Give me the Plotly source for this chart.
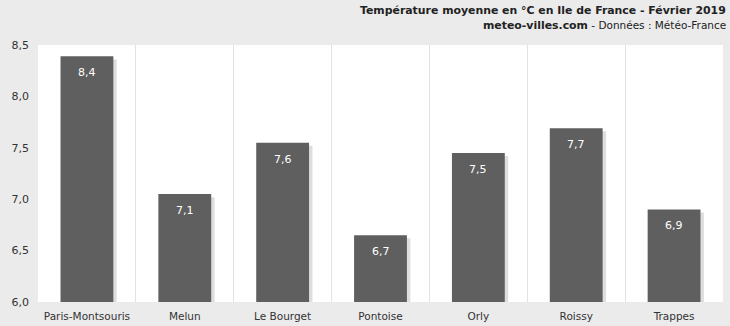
import plotly.graph_objects as go

stations = ["Paris-Montsouris", "Melun", "Le Bourget", "Pontoise", "Orly", "Roissy", "Trappes"]
temperatures = [8.39, 7.05, 7.55, 6.65, 7.45, 7.69, 6.90]
value_labels = ["8,4", "7,1", "7,6", "6,7", "7,5", "7,7", "6,9"]

bar_color = "#5f5f5f"
font_family = "DejaVu Sans, Verdana, sans-serif"

fig = go.Figure()

# shadow behind each bar
fig.add_trace(go.Bar(
    x=stations, y=[v - 6.03 for v in temperatures], base=6.0,
    width=0.54, offset=-0.27 + 0.035,
    marker=dict(color="rgba(0,0,0,0.13)", line=dict(width=0)),
    hoverinfo="skip", showlegend=False,
))
fig.add_trace(go.Bar(
    x=stations, y=[v - 6.0 for v in temperatures], base=6.0,
    width=0.54, offset=-0.27,
    marker=dict(color=bar_color, line=dict(width=0)),
    showlegend=False,
))

for s, v, lab in zip(stations, temperatures, value_labels):
    fig.add_annotation(x=s, y=v, text=lab, showarrow=False, yanchor="top", yshift=-8,
                       font=dict(color="white", size=11, family=font_family))

fig.add_annotation(xref="paper", yref="paper", x=1, y=1, xanchor="right", yanchor="bottom",
                   xshift=5, yshift=26, showarrow=False,
                   text="<b>Température moyenne en °C en Ile de France - Février 2019</b>",
                   font=dict(size=10.9, color="#222", family=font_family))
fig.add_annotation(xref="paper", yref="paper", x=1, y=1, xanchor="right", yanchor="bottom",
                   xshift=5, yshift=11, showarrow=False,
                   text="<b>meteo-villes.com</b><span style='font-size:10.5px'> - Données : Météo-France</span>",
                   font=dict(size=10.9, color="#222", family=font_family))

fig.update_layout(
    width=730, height=326,
    margin=dict(l=38, r=7, t=45, b=24),
    paper_bgcolor="#ebebeb", plot_bgcolor="white",
    barmode="overlay",
    separators=", ",
    font=dict(family=font_family, size=11, color="#333"),
    xaxis=dict(type="category", tickson="boundaries", showgrid=True, gridcolor="#e3e3e3",
               ticks="", showline=False, zeroline=False, tickangle=0, automargin=False,
               ticklabelstandoff=6, tickfont=dict(size=10.5, color="#333")),
    yaxis=dict(range=[6.0, 8.5], dtick=0.5, tickformat=".1f", showgrid=False, zeroline=False,
               ticks="", showline=False, automargin=False, ticklabelstandoff=8,
               tickfont=dict(size=11, color="#333")),
)

fig.write_html("out.html")
